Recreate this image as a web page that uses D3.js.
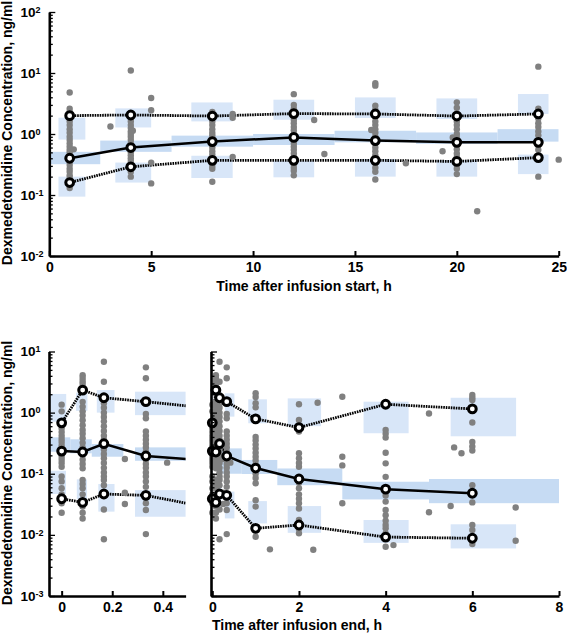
<!DOCTYPE html>
<html><head><meta charset="utf-8">
<script src="https://cdn.jsdelivr.net/npm/d3@7"></script>
<style>
body{margin:0;background:#fff}
svg{display:block}
text{font-family:Arial,"Liberation Sans",sans-serif;font-weight:bold;fill:#000}
</style>
</head><body>
<svg id="chart" width="567" height="636"></svg>
<script>
// ---------------- DATA ----------------
// Top panel: time after infusion start (h)
const startTimes = [1, 4, 8, 12, 16, 20, 24];
const startP95 = [2.0, 2.05, 1.97, 2.16, 2.13, 1.97, 2.13];
const startP50 = [0.40, 0.60, 0.75, 0.88, 0.78, 0.73, 0.73];
const startP05 = [0.16, 0.29, 0.37, 0.37, 0.37, 0.355, 0.41];
// prediction-interval boxes: [t0, t1, low, high]
const startBoxP95 = [[0.45,1.77,0.81,1.85],[3.24,5.0,1.28,2.63],[6.97,9.0,1.61,3.29],[11,13,1.71,3.65],[15,17,1.83,3.98],[19,21,1.76,3.83],[23,24.5,2.13,4.52]];
const startBoxP50 = [[0,2.5,0.32,0.51],[2.5,6,0.51,0.78],[6,10,0.62,0.94],[10,14,0.66,1.0],[14,18,0.73,1.13],[18,22,0.69,1.06],[22,25,0.75,1.2]];
const startBoxP05 = [[0.45,1.77,0.094,0.20],[3.24,5.0,0.16,0.34],[6.97,9.0,0.19,0.44],[11,13,0.195,0.365],[15,17,0.20,0.39],[19,21,0.20,0.375],[23,24.5,0.22,0.46]];
// observed concentrations: [time, value]
const startObs = [
 ...[4.8,2.6,2.3,2.0,1.8,1.6,1.4,1.2,1.05,0.9,0.8,0.7,0.62,0.55,0.5,0.45,0.4,0.35,0.31,0.27,0.24,0.21,0.19,0.17,0.15,0.14,0.13].map(v=>[1,v]),
 [1.2,0.56],[3,1.33],
 ...[11,2.2,2.0,1.8,1.6,1.4,1.25,1.1,1.0,0.9,0.8,0.7,0.62,0.55,0.5,0.45,0.4,0.36,0.32,0.28,0.24,0.2].map(v=>[4,v]),
 [4.1,1.13],
 ...[3.9,2.45,0.34,0.155].map(v=>[5,v]),
 ...[2.3,2.0,1.8,1.6,1.4,1.2,1.05,0.95,0.85,0.75,0.68,0.6,0.52,0.46,0.4,0.35,0.3,0.27,0.165].map(v=>[8,v]),
 ...[2.13,1.85,0.42].map(v=>[9,v]),
 ...[4.5,3.0,2.6,2.2,1.9,1.7,1.5,1.3,1.15,1.0,0.9,0.8,0.7,0.62,0.55,0.48,0.42,0.37,0.32,0.28,0.25,0.21].map(v=>[12,v]),
 [13,1.7],[13.5,0.47],
 ...[6.8,6.2,2.9,2.5,2.2,1.9,1.6,1.4,1.2,1.05,0.9,0.8,0.7,0.6,0.52,0.45,0.39,0.33,0.28,0.24,0.18].map(v=>[16,v]),
 [15.8,1.16],[17.5,0.33],
 ...[3.3,2.7,2.2,1.9,1.6,1.4,1.2,1.0,0.88,0.75,0.65,0.56,0.48,0.42,0.36,0.31,0.27,0.22].map(v=>[20,v]),
 [19.3,0.52],[19.8,0.88],[21,0.054],
 ...[12.7,2.6,2.1,1.8,1.5,1.3,1.1,0.95,0.8,0.65,0.55,0.45,0.2].map(v=>[24,v]),
 [25,0.38]
];

// Bottom panels: time after infusion end (h)
const endTimes = [0, 0.083, 0.167, 0.333, 1, 2, 4, 6];
const endP95 = [0.68, 2.34, 1.75, 1.51, 0.79, 0.57, 1.37, 1.15];
const endP50 = [0.235, 0.227, 0.31, 0.195, 0.124, 0.082, 0.056, 0.048];
const endP05 = [0.039, 0.034, 0.0466, 0.0443, 0.0128, 0.0145, 0.0092, 0.0088];
// left (first 0.5 h) panel boxes
const endZoomBoxP95 = [[-0.048,0.018,0.71,2.02],[0.057,0.102,1.07,2.12],[0.139,0.209,1.0,2.34],[0.29,0.51,0.91,2.2]];
const endZoomBoxP50 = [[-0.048,0.034,0.229,0.394],[0.034,0.119,0.216,0.366],[0.119,0.244,0.19,0.306],[0.29,0.51,0.163,0.27]];
const endZoomBoxP05 = [[-0.048,0.017,0.0466,0.112],[0.06,0.1,0.038,0.081],[0.145,0.209,0.024,0.068],[0.29,0.51,0.0198,0.054]];
// right (0-8 h) panel boxes
const endBoxP95 = [[-0.048,0.018,0.71,2.02],[0.057,0.102,1.07,2.12],[0.139,0.209,1.0,2.34],[0.29,0.51,0.86,2.07],[0.83,1.26,0.67,1.65],[1.74,2.51,0.60,1.71],[3.49,4.53,0.46,1.51],[5.5,7.01,0.41,1.75]];
const endBoxP50 = [[-0.048,0.034,0.229,0.394],[0.034,0.119,0.216,0.366],[0.15,0.68,0.10,0.26],[0.68,1.5,0.099,0.168],[1.5,3.0,0.065,0.122],[3.0,5.0,0.038,0.074],[5.0,8.0,0.033,0.082]];
const endBoxP05 = [[-0.048,0.017,0.0466,0.112],[0.06,0.1,0.038,0.081],[0.145,0.209,0.024,0.068],[0.29,0.51,0.0186,0.051],[0.83,1.26,0.0154,0.0357],[1.74,2.51,0.0108,0.0296],[3.49,4.53,0.0074,0.0175],[5.5,7.01,0.006,0.0149]];
const endObs = [
 ...[1.35,1.05,0.55,0.48,0.42,0.37,0.33,0.29,0.26,0.23,0.21,0.19,0.17,0.15,0.13,0.09,0.075,0.058,0.046,0.033,0.023].map(v=>[0,v]),
 ...[4.1,3.7,3.3,3.0,2.65,1.5,1.25,1.05,0.9,0.75,0.62,0.52,0.45,0.38,0.32,0.27,0.23,0.2,0.17,0.145,0.123,0.079,0.068,0.058,0.046,0.029,0.023,0.0185].map(v=>[0.083,v]),
 ...[6.8,3.2,1.42,1.2,1.0,0.85,0.72,0.6,0.5,0.42,0.36,0.3,0.25,0.21,0.18,0.15,0.125,0.105,0.09,0.079,0.065,0.026,0.0085].map(v=>[0.167,v]),
 ...[0.174,0.049,0.032].map(v=>[0.25,v]),
 ...[5.5,3.65,0.95,0.81,0.49,0.42,0.36,0.31,0.27,0.23,0.2,0.17,0.145,0.125,0.105,0.09,0.075,0.061,0.033,0.0255,0.0103].map(v=>[0.333,v]),
 [0.417,0.152],
 ...[2.07,1.8,1.42,1.22,0.40,0.35,0.3,0.26,0.22,0.19,0.165,0.14,0.12,0.1,0.085,0.07,0.037,0.029,0.0093].map(v=>[1,v]),
 [1.33,0.0058],
 ...[1.37,0.76,0.62,0.49,0.216,0.18,0.15,0.13,0.071,0.058,0.046,0.039,0.033,0.027,0.0176,0.0145,0.0125,0.0106].map(v=>[2,v]),
 [2.33,0.0057],[2.43,1.45],
 ...[1.82,0.19,0.137,0.033].map(v=>[3,v]),
 ...[0.52,0.45,0.39,0.22,0.148,0.089,0.054,0.044,0.035,0.0255,0.021,0.017,0.0145,0.0128,0.0106,0.0088,0.0064].map(v=>[4,v]),
 [4.18,0.0068],
 ...[0.97,0.0234].map(v=>[5,v]),
 [5.58,0.27],[5.75,0.216],[5.5,0.0297],
 ...[1.94,1.75,1.61,0.69,0.33,0.28,0.24,0.065,0.034,0.0145,0.012,0.0071].map(v=>[6,v]),
 [7,0.028],[7,0.008]
];

const startXTicks = [0,5,10,15,20,25];
const startYTicks = [-2,-1,0,1,2];
const endZoomXTicks = [0,0.2,0.4];
const endXTicks = [0,2,4,6,8];
const endYTicks = [-3,-2,-1,0,1];
const yTitle = "Dexmedetomidine Concentration, ng/ml";
const startXTitle = "Time after infusion start, h";
const endXTitle = "Time after infusion end, h";

// ---------------- DRAW ----------------
const svg = d3.select('#chart');
const boxOuter = '#d8e6f8', boxMid = '#c6dbf3', dotColor = '#808080';
let clipId = 0;

function panel(o){
  const x = d3.scaleLinear().domain(o.xDomain).range(o.xRange);
  const y = d3.scaleLog().domain(o.yDomain).range(o.yRange);
  const [x0,x1] = o.xRange, [yb,yt] = o.yRange;
  const id = 'clip'+(clipId++);
  svg.append('clipPath').attr('id',id).append('rect')
     .attr('x',x0).attr('y',yt).attr('width',x1-x0).attr('height',yb-yt);
  const g = svg.append('g').attr('clip-path',`url(#${id})`);
  // boxes
  const drawBoxes=(arr,col)=>g.selectAll(null).data(arr).enter().append('rect')
     .attr('x',d=>x(d[0])).attr('width',d=>x(d[1])-x(d[0]))
     .attr('y',d=>y(d[3])).attr('height',d=>y(d[2])-y(d[3])).attr('fill',col);
  drawBoxes(o.boxP95,boxOuter); drawBoxes(o.boxP05,boxOuter); drawBoxes(o.boxP50,boxMid);
  // dots
  const gd = svg.append('g');
  gd.selectAll(null).data(o.obs.filter(d=>d[0]>=o.xDomain[0]&&d[0]<=o.xDomain[1])).enter().append('circle')
    .attr('cx',d=>x(d[0])).attr('cy',d=>y(d[1])).attr('r',3.2).attr('fill',dotColor);
  // lines
  const line = (vals)=>d3.line().x((d,i)=>x(o.times[i])).y(d=>y(d))(vals);
  g.append('path').attr('d',line(o.p95)).attr('fill','none').attr('stroke','#000').attr('stroke-width',2.8).attr('stroke-dasharray','1.6,0.9');
  g.append('path').attr('d',line(o.p05)).attr('fill','none').attr('stroke','#000').attr('stroke-width',2.8).attr('stroke-dasharray','1.6,0.9');
  g.append('path').attr('d',line(o.p50)).attr('fill','none').attr('stroke','#000').attr('stroke-width',2.5);
  // markers
  const gm = svg.append('g');
  [o.p95,o.p50,o.p05].forEach(arr=>{
    gm.selectAll(null).data(arr.map((v,i)=>[o.times[i],v]).filter(d=>d[0]<=o.xDomain[1])).enter().append('circle')
      .attr('cx',d=>x(d[0])).attr('cy',d=>y(d[1])).attr('r',3.9)
      .attr('fill','#fff').attr('stroke','#000').attr('stroke-width',3);
  });
  // axes
  const majors = o.yTicks.map(e=>Math.pow(10,e));
  const minors = [];
  for(let i=0;i<o.yTicks.length-1;i++) for(let k=2;k<10;k++) minors.push(k*Math.pow(10,o.yTicks[i]));
  const ay = svg.append('g').attr('transform',`translate(${x0},0)`);
  ay.call(d3.axisLeft(y).tickValues(majors).tickSize(-6).tickSizeOuter(0).tickFormat(''));
  ay.append('g').call(d3.axisLeft(y).tickValues(minors).tickSize(-3.5).tickSizeOuter(0).tickFormat(''))
    .select('.domain').remove();
  ay.selectAll('.domain').attr('stroke','#000').attr('stroke-width',2.6);
  ay.selectAll('.tick line').attr('stroke','#000').attr('stroke-width',1.3);
  if(o.yLabels){
    o.yTicks.forEach(e=>{
      const t = svg.append('text').attr('x',20.5).attr('y',y(Math.pow(10,e))+4.6).attr('font-size',13.5);
      t.append('tspan').text('10');
      t.append('tspan').attr('font-size',9).attr('dy',-3.8).text(String(e));
    });
  }
  const ax = svg.append('g').attr('transform',`translate(0,${yb})`);
  ax.call(d3.axisBottom(x).tickValues(o.xTicks).tickSize(-5).tickSizeOuter(0).tickPadding(6)
          .tickFormat(o.xFormat||(d=>d)));
  ax.select('.domain').attr('stroke','#000').attr('stroke-width',2.6);
  ax.selectAll('.tick line').attr('stroke','#000').attr('stroke-width',2);
  ax.selectAll('.tick text').attr('font-size',14).attr('font-family','Arial,"Liberation Sans",sans-serif').attr('font-weight','bold').attr('fill','#000');
}

panel({xDomain:[0,25],xRange:[49.3,558.7],yDomain:[0.01,100],yRange:[256,12],
  xTicks:startXTicks,yTicks:startYTicks,yLabels:true,
  times:startTimes,p95:startP95,p50:startP50,p05:startP05,
  boxP95:startBoxP95,boxP50:startBoxP50,boxP05:startBoxP05,obs:startObs});

panel({xDomain:[-0.05,0.49],xRange:[49,185.6],yDomain:[0.001,10],yRange:[596,351.5],
  xTicks:endZoomXTicks,yTicks:endYTicks,yLabels:true,xFormat:d3.format('.1~f'),
  times:endTimes,p95:endP95,p50:endP50,p05:endP05,
  boxP95:endZoomBoxP95,boxP50:endZoomBoxP50,boxP05:endZoomBoxP05,obs:endObs});

panel({xDomain:[-0.03,8],xRange:[211,559],yDomain:[0.001,10],yRange:[596,351.5],
  xTicks:endXTicks,yTicks:endYTicks,yLabels:false,
  times:endTimes,p95:endP95,p50:endP50,p05:endP05,
  boxP95:endBoxP95,boxP50:endBoxP50,boxP05:endBoxP05,obs:endObs});

// titles
svg.append('text').attr('x',304).attr('y',291).attr('text-anchor','middle').attr('font-size',14).text(startXTitle);
svg.append('text').attr('x',297).attr('y',630).attr('text-anchor','middle').attr('font-size',14).text(endXTitle);
svg.append('text').attr('transform','translate(12,133) rotate(-90)').attr('text-anchor','middle').attr('font-size',14).text(yTitle);
svg.append('text').attr('transform','translate(12,473) rotate(-90)').attr('text-anchor','middle').attr('font-size',14).text(yTitle);
</script>
</body></html>
